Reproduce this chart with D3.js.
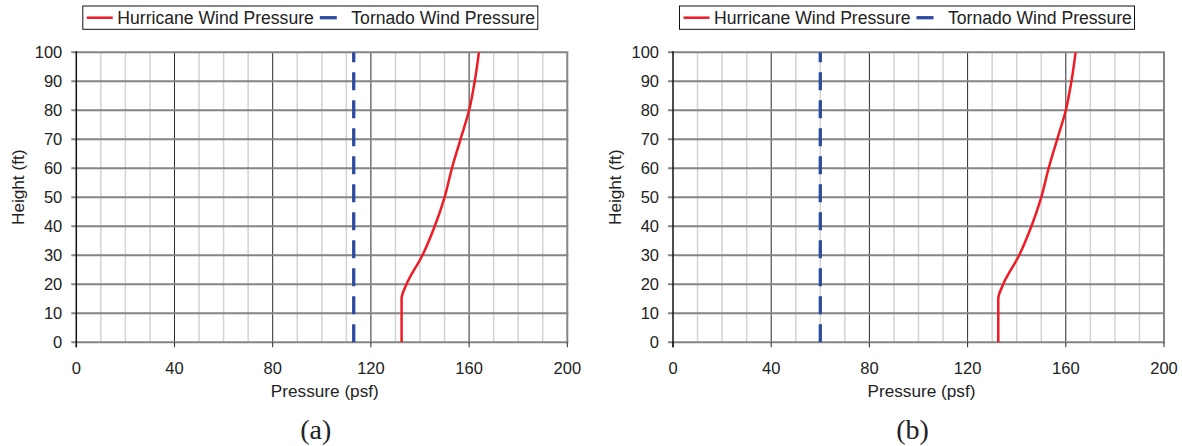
<!DOCTYPE html>
<html>
<head>
<meta charset="utf-8">
<script src="https://cdn.jsdelivr.net/npm/d3@7"></script>
<style>
  body { margin: 0; background: #fff; }
  text { font-family: Arial, "Liberation Sans", sans-serif; fill: #222; }
</style>
</head>
<body>
<div id="chart"></div>
<script>
// data
var heights = [0, 15, 20, 30, 40, 50, 60, 70, 80, 90, 100];
var hurricanePressure = [132.5, 132.5, 134.5, 141, 146, 150, 153, 156.5, 160, 162.3, 164];
var tornadoPressure = [113, 60];          // panel (a), panel (b)
var panelLabels = ['(a)', '(b)'];
var xTicks = [0, 40, 80, 120, 160, 200];
var yTicks = [0, 10, 20, 30, 40, 50, 60, 70, 80, 90, 100];
var xMinor = d3.range(0, 201, 10);

var W = 1182, H = 446;
var svg = d3.select('#chart').append('svg')
            .attr('width', W)
            .attr('height', H);

// plot area of one panel
var w = 491, h = 290, plotTop = 52.3;
var panelLeft = [76.3, 673];

var color = {
  hurricane: '#ee1c25',
  tornado: '#2e4c9f',
  hgrid: '#858585',
  minor: '#d3d3d3',
  major: '#2b2b2b'
};

function drawPanel(i) {
  var x = d3.scaleLinear().domain([0, 200]).range([0, w]),
      y = d3.scaleLinear().domain([0, 100]).range([h, 0]);

  var g = svg.append('g')
             .attr('transform', 'translate(' + panelLeft[i] + ',' + plotTop + ')');

  // light vertical grid every 10
  g.selectAll('.minor')
   .data(xMinor.filter(function(d) { return d % 40 !== 0; }))
   .enter().append('line')
   .attr('class', 'minor')
   .attr('x1', function(d) { return x(d); })
   .attr('x2', function(d) { return x(d); })
   .attr('y1', 0).attr('y2', h)
   .attr('stroke', color.minor)
   .attr('stroke-width', 1.5);

  // dark vertical grid on major ticks
  g.selectAll('.major')
   .data(xTicks.filter(function(d) { return d > 0 && d < 200; }))
   .enter().append('line')
   .attr('class', 'major')
   .attr('x1', function(d) { return x(d); })
   .attr('x2', function(d) { return x(d); })
   .attr('y1', 0).attr('y2', h)
   .attr('stroke', color.major)
   .attr('stroke-width', 1);

  // right border
  g.append('line')
   .attr('x1', x(200)).attr('x2', x(200))
   .attr('y1', 0).attr('y2', h)
   .attr('stroke', color.hgrid)
   .attr('stroke-width', 2);

  // horizontal grid
  g.selectAll('.hgrid')
   .data(yTicks)
   .enter().append('line')
   .attr('class', 'hgrid')
   .attr('x1', -5).attr('x2', w + 1)
   .attr('y1', function(d) { return y(d); })
   .attr('y2', function(d) { return y(d); })
   .attr('stroke', color.hgrid)
   .attr('stroke-width', 2);

  // x axis ticks
  g.selectAll('.xtick')
   .data(xTicks)
   .enter().append('line')
   .attr('x1', function(d) { return x(d); })
   .attr('x2', function(d) { return x(d); })
   .attr('y1', h).attr('y2', h + 5)
   .attr('stroke', color.major)
   .attr('stroke-width', 1);

  // left axis
  g.append('line')
   .attr('x1', 0).attr('x2', 0)
   .attr('y1', -1).attr('y2', h + 5)
   .attr('stroke', '#111')
   .attr('stroke-width', 1.5);

  // tick labels
  g.selectAll('.xlabel')
   .data(xTicks)
   .enter().append('text')
   .attr('x', function(d) { return x(d); })
   .attr('y', h + 31.5)
   .attr('text-anchor', 'middle')
   .style('font-size', '16.5px')
   .text(function(d) { return d; });

  g.selectAll('.ylabel')
   .data(yTicks)
   .enter().append('text')
   .attr('x', -14)
   .attr('y', function(d) { return y(d) + 5.9; })
   .attr('text-anchor', 'end')
   .style('font-size', '16.5px')
   .text(function(d) { return d; });

  // axis titles
  g.append('text')
   .attr('x', w / 2 + 3)
   .attr('y', h + 55)
   .attr('text-anchor', 'middle')
   .style('font-size', '17.2px')
   .text('Pressure (psf)');

  g.append('text')
   .attr('transform', 'translate(' + -52 + ',' + (h / 2 - 10) + ')rotate(-90)')
   .attr('text-anchor', 'middle')
   .style('font-size', '17.2px')
   .text('Height (ft)');

  g.append('text')
   .attr('x', w / 2 - 6)
   .attr('y', h + 97)
   .attr('text-anchor', 'middle')
   .style('font-family', '"Liberation Serif", "Times New Roman", serif')
   .style('font-size', '28px')
   .text(panelLabels[i]);

  // tornado: constant pressure, dashed
  var tornado = heights.map(function(d) { return {p: tornadoPressure[i], h: d}; });
  var line = d3.line()
               .x(function(d) { return x(d.p); })
               .y(function(d) { return y(d.h); });

  g.append('path')
   .datum([tornado[0], tornado[tornado.length - 1]])
   .attr('d', line)
   .attr('fill', 'none')
   .attr('stroke', color.tornado)
   .attr('stroke-width', 3.3)
   .attr('stroke-dasharray', '18,10');

  // hurricane profile
  var hurricane = heights.map(function(d, j) { return {p: hurricanePressure[j], h: d}; });
  g.append('path')
   .datum(hurricane)
   .attr('d', line.curve(d3.curveMonotoneY))
   .attr('fill', 'none')
   .attr('stroke', color.hurricane)
   .attr('stroke-width', 2.5);

  // legend
  var legend = g.append('g')
                .attr('transform', 'translate(6.5,' + (-46.3) + ')');
  legend.append('rect')
        .attr('width', 455).attr('height', 23.3)
        .attr('fill', '#fff')
        .attr('stroke', '#111')
        .attr('stroke-width', 1);
  legend.append('line')
        .attr('x1', 4).attr('x2', 30)
        .attr('y1', 11.7).attr('y2', 11.7)
        .attr('stroke', color.hurricane)
        .attr('stroke-width', 2.5);
  legend.append('text')
        .attr('x', 34.5).attr('y', 17.9)
        .style('font-size', '17.6px')
        .text('Hurricane Wind Pressure');
  legend.append('line')
        .attr('x1', 237).attr('x2', 254)
        .attr('y1', 11.7).attr('y2', 11.7)
        .attr('stroke', color.tornado)
        .attr('stroke-width', 3.3);
  legend.append('text')
        .attr('x', 268.5).attr('y', 17.9)
        .style('font-size', '17.6px')
        .text('Tornado Wind Pressure');
}

tornadoPressure.forEach(function(d, i) { drawPanel(i); });
</script>
</body>
</html>
